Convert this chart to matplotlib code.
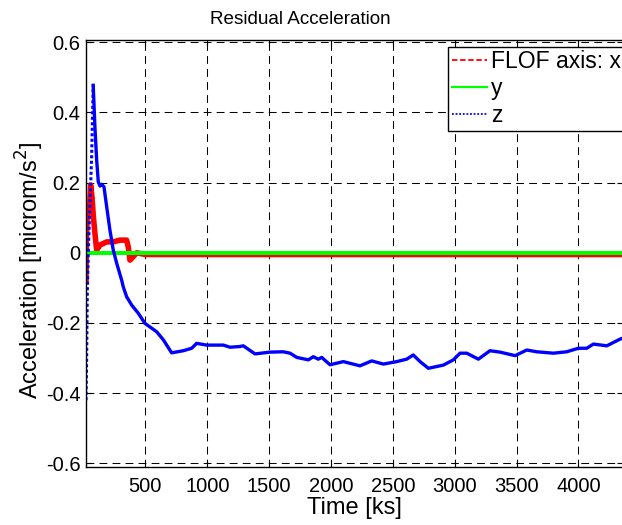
import matplotlib
matplotlib.use("Agg")
import matplotlib.pyplot as plt
from matplotlib.lines import Line2D

plt.rcParams['font.family'] = ['Liberation Sans', 'DejaVu Sans']

# FLOF axis x (red)
x_time = [20, 23, 28, 38, 48, 57, 68, 80, 92, 106, 120, 133, 187, 240, 294,
          348, 361, 375, 402, 429, 500, 1000, 2000, 3000, 4000, 4360]
x_val = [-0.08, 0.03, 0.09, 0.13, 0.12, 0.193, 0.16, 0.10, 0.055, 0.008, 0.015,
         0.022, 0.031, 0.031, 0.036, 0.036, 0.017, -0.021, -0.011, 0.0, -0.005,
         -0.005, -0.005, -0.005, -0.005, -0.005]

# y (green)
y_time = [20, 1000, 2000, 3000, 4000, 4360]
y_val = [0.0, 0.0, 0.0, 0.0, 0.0, 0.0]

# z (blue)
z_time = [20, 25, 30, 40, 52, 65, 78, 92, 106, 119, 133, 146, 165, 187, 213,
          240, 268, 308, 321, 348, 389, 442, 496, 591, 645, 712, 806, 874, 914,
          995, 1130, 1184, 1264, 1291, 1386, 1507, 1614, 1669, 1723, 1817, 1857,
          1897, 1925, 1992, 2100, 2234, 2329, 2423, 2531, 2612, 2665, 2720, 2787,
          2908, 2989, 3043, 3097, 3191, 3285, 3366, 3488, 3582, 3663, 3797, 3905,
          3999, 4067, 4121, 4229, 4336, 4360]
z_val = [-0.42, -0.30, -0.12, 0.02, 0.14, 0.27, 0.477, 0.358, 0.264, 0.202, 0.19,
         0.195, 0.188, 0.131, 0.065, 0.008, -0.03, -0.078, -0.097, -0.125, -0.149,
         -0.172, -0.201, -0.225, -0.248, -0.285, -0.279, -0.272, -0.258, -0.263,
         -0.263, -0.269, -0.267, -0.265, -0.288, -0.283, -0.282, -0.286, -0.298,
         -0.305, -0.296, -0.303, -0.298, -0.319, -0.310, -0.322, -0.308, -0.317,
         -0.310, -0.303, -0.291, -0.310, -0.329, -0.320, -0.305, -0.286, -0.286,
         -0.303, -0.279, -0.283, -0.293, -0.277, -0.282, -0.286, -0.282, -0.272,
         -0.272, -0.260, -0.265, -0.246, -0.243]

xticks = [500, 1000, 1500, 2000, 2500, 3000, 3500, 4000]
yticks = [-0.6, -0.4, -0.2, 0, 0.2, 0.4, 0.6]
ytick_labels = ['-0.6', '-0.4', '-0.2', '0', '0.2', '0.4', '0.6']
legend_labels = ['FLOF axis: x', 'y', 'z']

fig = plt.figure(figsize=(6.22, 5.25), dpi=100)
ax = fig.add_axes([0.1383, 0.1099, 0.8633, 0.813])

ax.plot(x_time, x_val, color='#ff0000', lw=4)
ax.plot(y_time, y_val, color='#00ff00', lw=2.9)
k = 7  # steep initial rise drawn dotted
ax.plot(z_time[:k], z_val[:k], color='#0000ff', lw=2.2, ls=(0, (1, 0.8)))
ax.plot(z_time[k - 1:], z_val[k - 1:], color='#0000ff', lw=2.4)

ax.set_xlim(20, 4360)
ax.set_ylim(-0.611, 0.6046)
ax.set_xticks(xticks)
ax.set_yticks(yticks)
ax.set_yticklabels(ytick_labels)
ax.tick_params(direction='in', top=True, right=True, length=4, width=0.8,
               labelsize=14.5)
ax.tick_params(axis='x', pad=7)
ax.tick_params(axis='y', pad=4)
ax.grid(True, color='k', lw=0.75, ls=(0, (7.5, 5)))
for s in ax.spines.values():
    s.set_linewidth(1.0)

ax.set_title('Residual Acceleration', fontsize=13.6, x=0.3985, pad=12)
ax.set_xlabel('Time [ks]', fontsize=17, labelpad=1)
ax.set_ylabel('Acceleration [microm/s$^2$]', fontsize=17)
ax.yaxis.set_label_coords(-0.075, 0.462)

handles = [Line2D([], [], color='#ff0000', lw=1.3, ls=(0, (3, 1.5))),
           Line2D([], [], color='#00ff00', lw=1.6),
           Line2D([], [], color='#0000ff', lw=1.3, ls=(0, (1, 1)))]
leg = ax.legend(handles, legend_labels, loc='upper left',
                bbox_to_anchor=(0.7207, 0.911), bbox_transform=fig.transFigure,
                fontsize=16.5, fancybox=False, framealpha=1, edgecolor='k',
                handlelength=1.55, handletextpad=0.15, labelspacing=0.18,
                borderpad=0.15, borderaxespad=0)
leg.get_frame().set_linewidth(1.0)

fig.savefig('out.png', dpi=100)
